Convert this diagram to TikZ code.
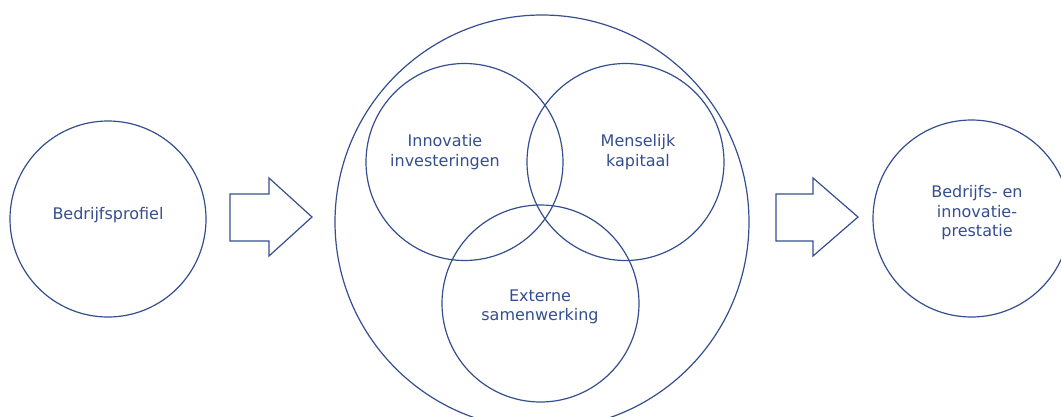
\documentclass[tikz,border=0pt]{standalone}
\usepackage{fontspec}
\setmainfont{DejaVu Sans}
\definecolor{ink}{RGB}{52,78,142}
\begin{document}
\begin{tikzpicture}[x=1pt,y=-1pt,
  ring/.style={draw=ink,line width=1.2pt,circle,inner sep=0pt},
  lbl/.style={text=ink,font=\fontsize{16}{19.5}\selectfont,align=center},
  blockarrow/.style={draw=ink,line width=1.2pt,line join=miter}]
\useasboundingbox (0,0) rectangle (1061,416);
\begin{scope}
\clip (0,0) rectangle (1061,416);
\node[ring,minimum size=196pt] (prof) at (108,219) {};
\node[ring,minimum size=414pt] (big) at (542,222) {};
\node[ring,minimum size=197pt] (inno) at (464.5,162) {};
\node[ring,minimum size=197pt] (mens) at (625.5,162) {};
\node[ring,minimum size=197pt] (ext) at (540.5,303.5) {};
\node[ring,minimum size=197pt] (pres) at (971.5,218.5) {};
\end{scope}
\node[lbl] (tprof) at (108,215) {Bedrijfsprofiel};
\node[lbl] (tinno) at (445,152) {Innovatie\\investeringen};
\node[lbl] (tmens) at (638,152) {Menselijk\\kapitaal};
\node[lbl] (text) at (540,307) {Externe\\samenwerking};
\node[lbl] (tpres) at (977,213) {Bedrijfs- en\\innovatie-\\prestatie};
\draw[blockarrow] (230,194) -- (269,194) -- (269,178) -- (312,217) -- (269,256) -- (269,241) -- (230,241) -- cycle;
\draw[blockarrow] (776,194) -- (813,194) -- (813,178) -- (858,217) -- (813,256) -- (813,241) -- (776,241) -- cycle;
\end{tikzpicture}
\end{document}
